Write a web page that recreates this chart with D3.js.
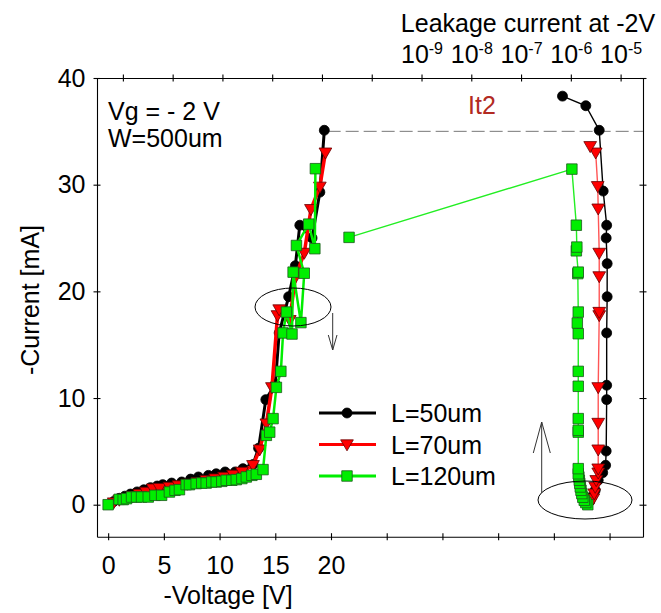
<!DOCTYPE html>
<html>
<head>
<meta charset="utf-8">
<script src="https://cdn.jsdelivr.net/npm/d3@7"></script>
<style>
  html, body { margin: 0; padding: 0; background: #fff; }
  svg text { font-family: "Liberation Sans", Arial, Helvetica, sans-serif; }
</style>
</head>
<body>
<svg id="chart" width="661" height="613"></svg>
<script>
// ---- I-V sweep data (voltage in V, current in mA) ----
const ivL50V = [0.5,1.0,1.5,2.0,2.6,3.2,3.8,4.4,4.9,5.7,6.6,7.4,8.1,9.0,9.7,10.5,11.4,12.1,13.0,13.5,14.15,15.0,15.35,16.2,16.8,17.2,18.3,19.0,19.4];
const ivL50I = [0.3,0.6,0.8,1.0,1.2,1.4,1.6,1.75,1.88,2.03,2.13,2.4,2.6,2.75,2.9,3.07,3.07,3.38,3.76,5.3,9.85,11.3,16.1,19.5,22.4,26.2,25.0,29.3,35.1];

const ivL70V = [0.5,1.0,1.6,2.2,2.8,3.4,4.0,4.6,5.5,6.3,7.1,8.0,8.8,9.6,10.4,11.2,12.0,13.0,13.6,14.2,14.7,15.2,15.35,16.3,16.8,17.6,18.2,19.0,19.5];
const ivL70I = [0.2,0.45,0.6,0.8,1.0,1.2,1.5,1.55,1.66,1.8,1.95,2.1,2.3,2.45,2.6,2.8,3.07,3.7,5.16,7.6,11.0,17.75,18.3,17.3,21.3,23.6,27.7,29.8,33.0];

const ivL120V = [0,0.99,1.35,1.65,2.1,2.55,3.0,3.6,4.2,4.8,5.5,6.0,6.4,7.0,7.3,7.9,8.4,8.8,9.3,9.7,10.2,10.6,11.1,11.5,12.0,12.4,12.9,13.3,13.9,14.2,14.5,14.8,15.1,15.5,15.7,16.0,16.5,16.6,17.3,17.6,16.9,18.0,18.55,18.6];
const ivL120I = [0,0.5,0.48,0.57,0.72,0.72,0.72,0.72,0.88,0.88,1.19,1.35,1.41,1.88,1.88,1.98,2.03,2.03,2.13,2.13,2.19,2.29,2.29,2.35,2.45,2.6,2.75,2.85,3.29,6.5,6.8,8.07,11.0,12.5,16.1,18.06,16.0,21.8,17.07,21.7,24.3,26.3,24.0,31.5];

// ---- leakage at -2 V after each stress step (leakage in A, stress current in mA) ----
const lkL50A = [2.4e-6,2.63e-6,3.09e-6,3.55e-6,4.37e-6,5.0e-6,5.13e-6,5.25e-6,5.25e-6,5.25e-6,5.37e-6,5.37e-6,5.13e-6,5.25e-6,4.47e-6,3.72e-6,2.0e-6,6.8e-7];
const lkL50I = [0.3,0.72,1.35,2.3,3.0,3.7,5.03,9.85,11.2,16.1,19.5,22.6,25.0,26.2,29.4,35.1,37.4,38.3];

const lkL70A = [2.82e-6,2.95e-6,3.09e-6,3.24e-6,3.55e-6,3.55e-6,3.55e-6,3.55e-6,3.55e-6,3.72e-6,3.72e-6,3.72e-6,3.72e-6,3.55e-6,3.47e-6,3.16e-6,2.45e-6];
const lkL70I = [0.57,1.04,1.66,2.29,3.0,3.38,5.16,7.66,11.0,17.75,18.06,21.4,23.6,27.75,29.85,33.0,33.6];

const lkL120A = [2.19e-6,2.0e-6,1.86e-6,1.74e-6,1.66e-6,1.6e-6,1.55e-6,1.51e-6,1.48e-6,1.45e-6,1.41e-6,1.41e-6,1.41e-6,1.41e-6,1.41e-6,1.41e-6,1.41e-6,1.41e-6,1.35e-6,1.41e-6,1.38e-6,1.41e-6,1.29e-6,1.32e-6,1.29e-6,1.05e-6,3.5e-11];
const lkL120I = [0,0.2,0.41,0.7,1.04,1.35,1.66,2.0,2.29,2.6,2.9,3.38,6.8,6.97,8.07,11.1,12.5,16.03,17.03,18.06,21.66,21.8,23.8,24.15,26.2,31.46,25.06];

// ---- axis ticks ----
const voltTicks = [0,5,10,15,20,25,30,35,40,45];
const voltLabels = [0,5,10,15,20];
const currTicks = [0,10,20,30,40];
const leakTicks = [-15,-14,-13,-12,-11,-10,-9,-8,-7,-6,-5];
const leakLabels = [-9,-8,-7,-6,-5];

const legendNames = ["L=50um","L=70um","L=120um"];
const it2Current = 35;

const svg = d3.select("#chart");
const plotL = 97, plotR = 643, plotT = 78, plotB = 536.7;
const FONT = 25;

const x = d3.scaleLinear().domain([-1, 48]).range([plotL, plotR]);
const y = d3.scaleLinear().domain([-3, 40]).range([plotB, plotT]);
const xl = d3.scaleLog().domain([Math.pow(10,-15.52), Math.pow(10,-4.55)]).range([plotL, plotR]);

// ticks that straddle the axis line
function crossTicks(g, dir) {
  g.selectAll(".tick line").each(function() {
    const l = d3.select(this);
    if (dir === "h") l.attr("x1", -3.5).attr("x2", 3.5);
    else l.attr("y1", -3.5).attr("y2", 3.5);
  });
  g.selectAll("path.domain, .tick line").attr("stroke", "#000").attr("stroke-width", 1.1);
}

// bottom axis (voltage)
const gx = svg.append("g").attr("transform", `translate(0,${plotB})`)
  .call(d3.axisBottom(x).tickValues(voltTicks).tickSizeOuter(0).tickSizeInner(3.5).tickPadding(16)
    .tickFormat(d => voltLabels.includes(d) ? d : ""));
crossTicks(gx, "v");
gx.selectAll("text").attr("font-size", FONT).attr("fill", "#000");

// left axis (current)
const gy = svg.append("g").attr("transform", `translate(${plotL},0)`)
  .call(d3.axisLeft(y).tickValues(currTicks).tickSizeOuter(0).tickSizeInner(3.5).tickPadding(8));
crossTicks(gy, "h");
gy.selectAll("text").attr("font-size", FONT).attr("fill", "#000");

// right axis (current, no labels)
const gy2 = svg.append("g").attr("transform", `translate(${plotR},0)`)
  .call(d3.axisRight(y).tickValues(currTicks).tickSizeOuter(0).tickSizeInner(3.5).tickFormat(""));
crossTicks(gy2, "h");

// top axis (leakage current, log)
const gt = svg.append("g").attr("transform", `translate(0,${plotT})`)
  .call(d3.axisTop(xl).tickValues(leakTicks.map(e => Math.pow(10, e))).tickSizeOuter(0).tickSizeInner(3.5)
    .tickFormat(""));
crossTicks(gt, "v");
gt.selectAll(".tick").each(function(d) {
  const e = Math.round(Math.log10(d));
  if (!leakLabels.includes(e)) return;
  const t = d3.select(this).append("text")
    .attr("y", -15).attr("text-anchor", "middle").attr("fill", "#000").attr("font-size", FONT);
  t.append("tspan").text("10");
  t.append("tspan").attr("font-size", 16).attr("dy", -9).text(String(e));
});

svg.append("text").attr("x", 528).attr("y", 32).attr("text-anchor", "middle")
  .attr("font-size", FONT).text("Leakage current at -2V");

// axis titles
svg.append("text").attr("x", 228).attr("y", 604).attr("text-anchor", "middle")
  .attr("font-size", FONT).text("-Voltage [V]");
svg.append("text").attr("transform", "translate(39,300) rotate(-90)").attr("text-anchor", "middle")
  .attr("font-size", FONT).text("-Current [mA]");

// annotations
svg.append("text").attr("x", 108).attr("y", 120).attr("font-size", FONT).text("Vg = - 2 V");
svg.append("text").attr("x", 108).attr("y", 147).attr("font-size", FONT).text("W=500um");

svg.append("line")
  .attr("x1", x(19.7)).attr("x2", plotR).attr("y1", y(it2Current)).attr("y2", y(it2Current))
  .attr("stroke", "#777").attr("stroke-width", 1).attr("stroke-dasharray", "13,5");
svg.append("text").attr("x", 468).attr("y", 114).attr("font-size", FONT).attr("fill", "#b22a22").text("It2");

// series styling
const series = [
  { name: legendNames[0], color: "#000", ivW: 3, lkColor: "#000", sym: d3.symbolCircle, size: 78, fill: "#000", stroke: "#000",
    iv: ivL50V.map((v,i) => [v, ivL50I[i]]), lk: lkL50A.map((a,i) => [a, lkL50I[i]]) },
  { name: legendNames[1], color: "#ff0000", ivW: 3.5, lkColor: "#ff5555", sym: d3.symbolTriangle, size: 70, fill: "#ff0000", stroke: "#600",
    iv: ivL70V.map((v,i) => [v, ivL70I[i]]), lk: lkL70A.map((a,i) => [a, lkL70I[i]]) },
  { name: legendNames[2], color: "#00ee00", ivW: 2.5, lkColor: "#22ee22", sym: d3.symbolSquare, size: 110, fill: "#00ee00", stroke: "#1a5a1a",
    iv: ivL120V.map((v,i) => [v, ivL120I[i]]), lk: lkL120A.map((a,i) => [a, lkL120I[i]]) }
];

function symPath(s) {
  return d3.symbol().type(s.sym).size(s.size)();
}
function symTransform(s, px, py) {
  return s.sym === d3.symbolTriangle ? `translate(${px},${py - 1}) rotate(180)` : `translate(${px},${py})`;
}

const ivLine = d3.line().x(d => x(d[0])).y(d => y(d[1]));
const lkLine = d3.line().x(d => xl(d[0])).y(d => y(d[1]));

series.forEach(s => {
  const g = svg.append("g");
  // leakage trace
  g.append("path").attr("d", lkLine(s.lk)).attr("fill", "none")
    .attr("stroke", s.lkColor).attr("stroke-width", 1.4);
  g.selectAll("path.lkm").data(s.lk).join("path").attr("class", "lkm")
    .attr("d", symPath(s)).attr("transform", d => symTransform(s, xl(d[0]), y(d[1])))
    .attr("fill", s.fill).attr("stroke", s.stroke).attr("stroke-width", 0.8);
  // I-V trace
  g.append("path").attr("d", ivLine(s.iv)).attr("fill", "none")
    .attr("stroke", s.color).attr("stroke-width", s.ivW).attr("stroke-linejoin", "round");
  g.selectAll("path.ivm").data(s.iv).join("path").attr("class", "ivm")
    .attr("d", symPath(s)).attr("transform", d => symTransform(s, x(d[0]), y(d[1])))
    .attr("fill", s.fill).attr("stroke", s.stroke).attr("stroke-width", 0.8);
});

// ellipses and arrows marking the two regions
const ann = svg.append("g").attr("fill", "none").attr("stroke", "#000").attr("stroke-width", 1);
ann.append("ellipse").attr("cx", 293).attr("cy", 307).attr("rx", 38).attr("ry", 19);
ann.append("ellipse").attr("cx", 585).attr("cy", 500).attr("rx", 47).attr("ry", 19);
ann.append("path").attr("stroke", "#333").attr("d", "M332.7,313 L332.7,350 M328.3,335 L332.7,350 L337,335");
ann.append("path").attr("stroke", "#333").attr("d", "M541.7,493 L541.7,422 M533.3,453 L541.7,422 L550.3,453");

// legend
const lg = svg.append("g");
series.forEach((s, i) => {
  const cy = 413 + i * 31.5;
  lg.append("line").attr("x1", 319).attr("x2", 376).attr("y1", cy).attr("y2", cy)
    .attr("stroke", s.color).attr("stroke-width", 3);
  lg.append("path").attr("d", symPath(s)).attr("transform", symTransform(s, 347, cy))
    .attr("fill", s.fill).attr("stroke", s.stroke).attr("stroke-width", 0.8);
  lg.append("text").attr("x", 391).attr("y", cy + 9).attr("font-size", FONT).text(s.name);
});
</script>
</body>
</html>
